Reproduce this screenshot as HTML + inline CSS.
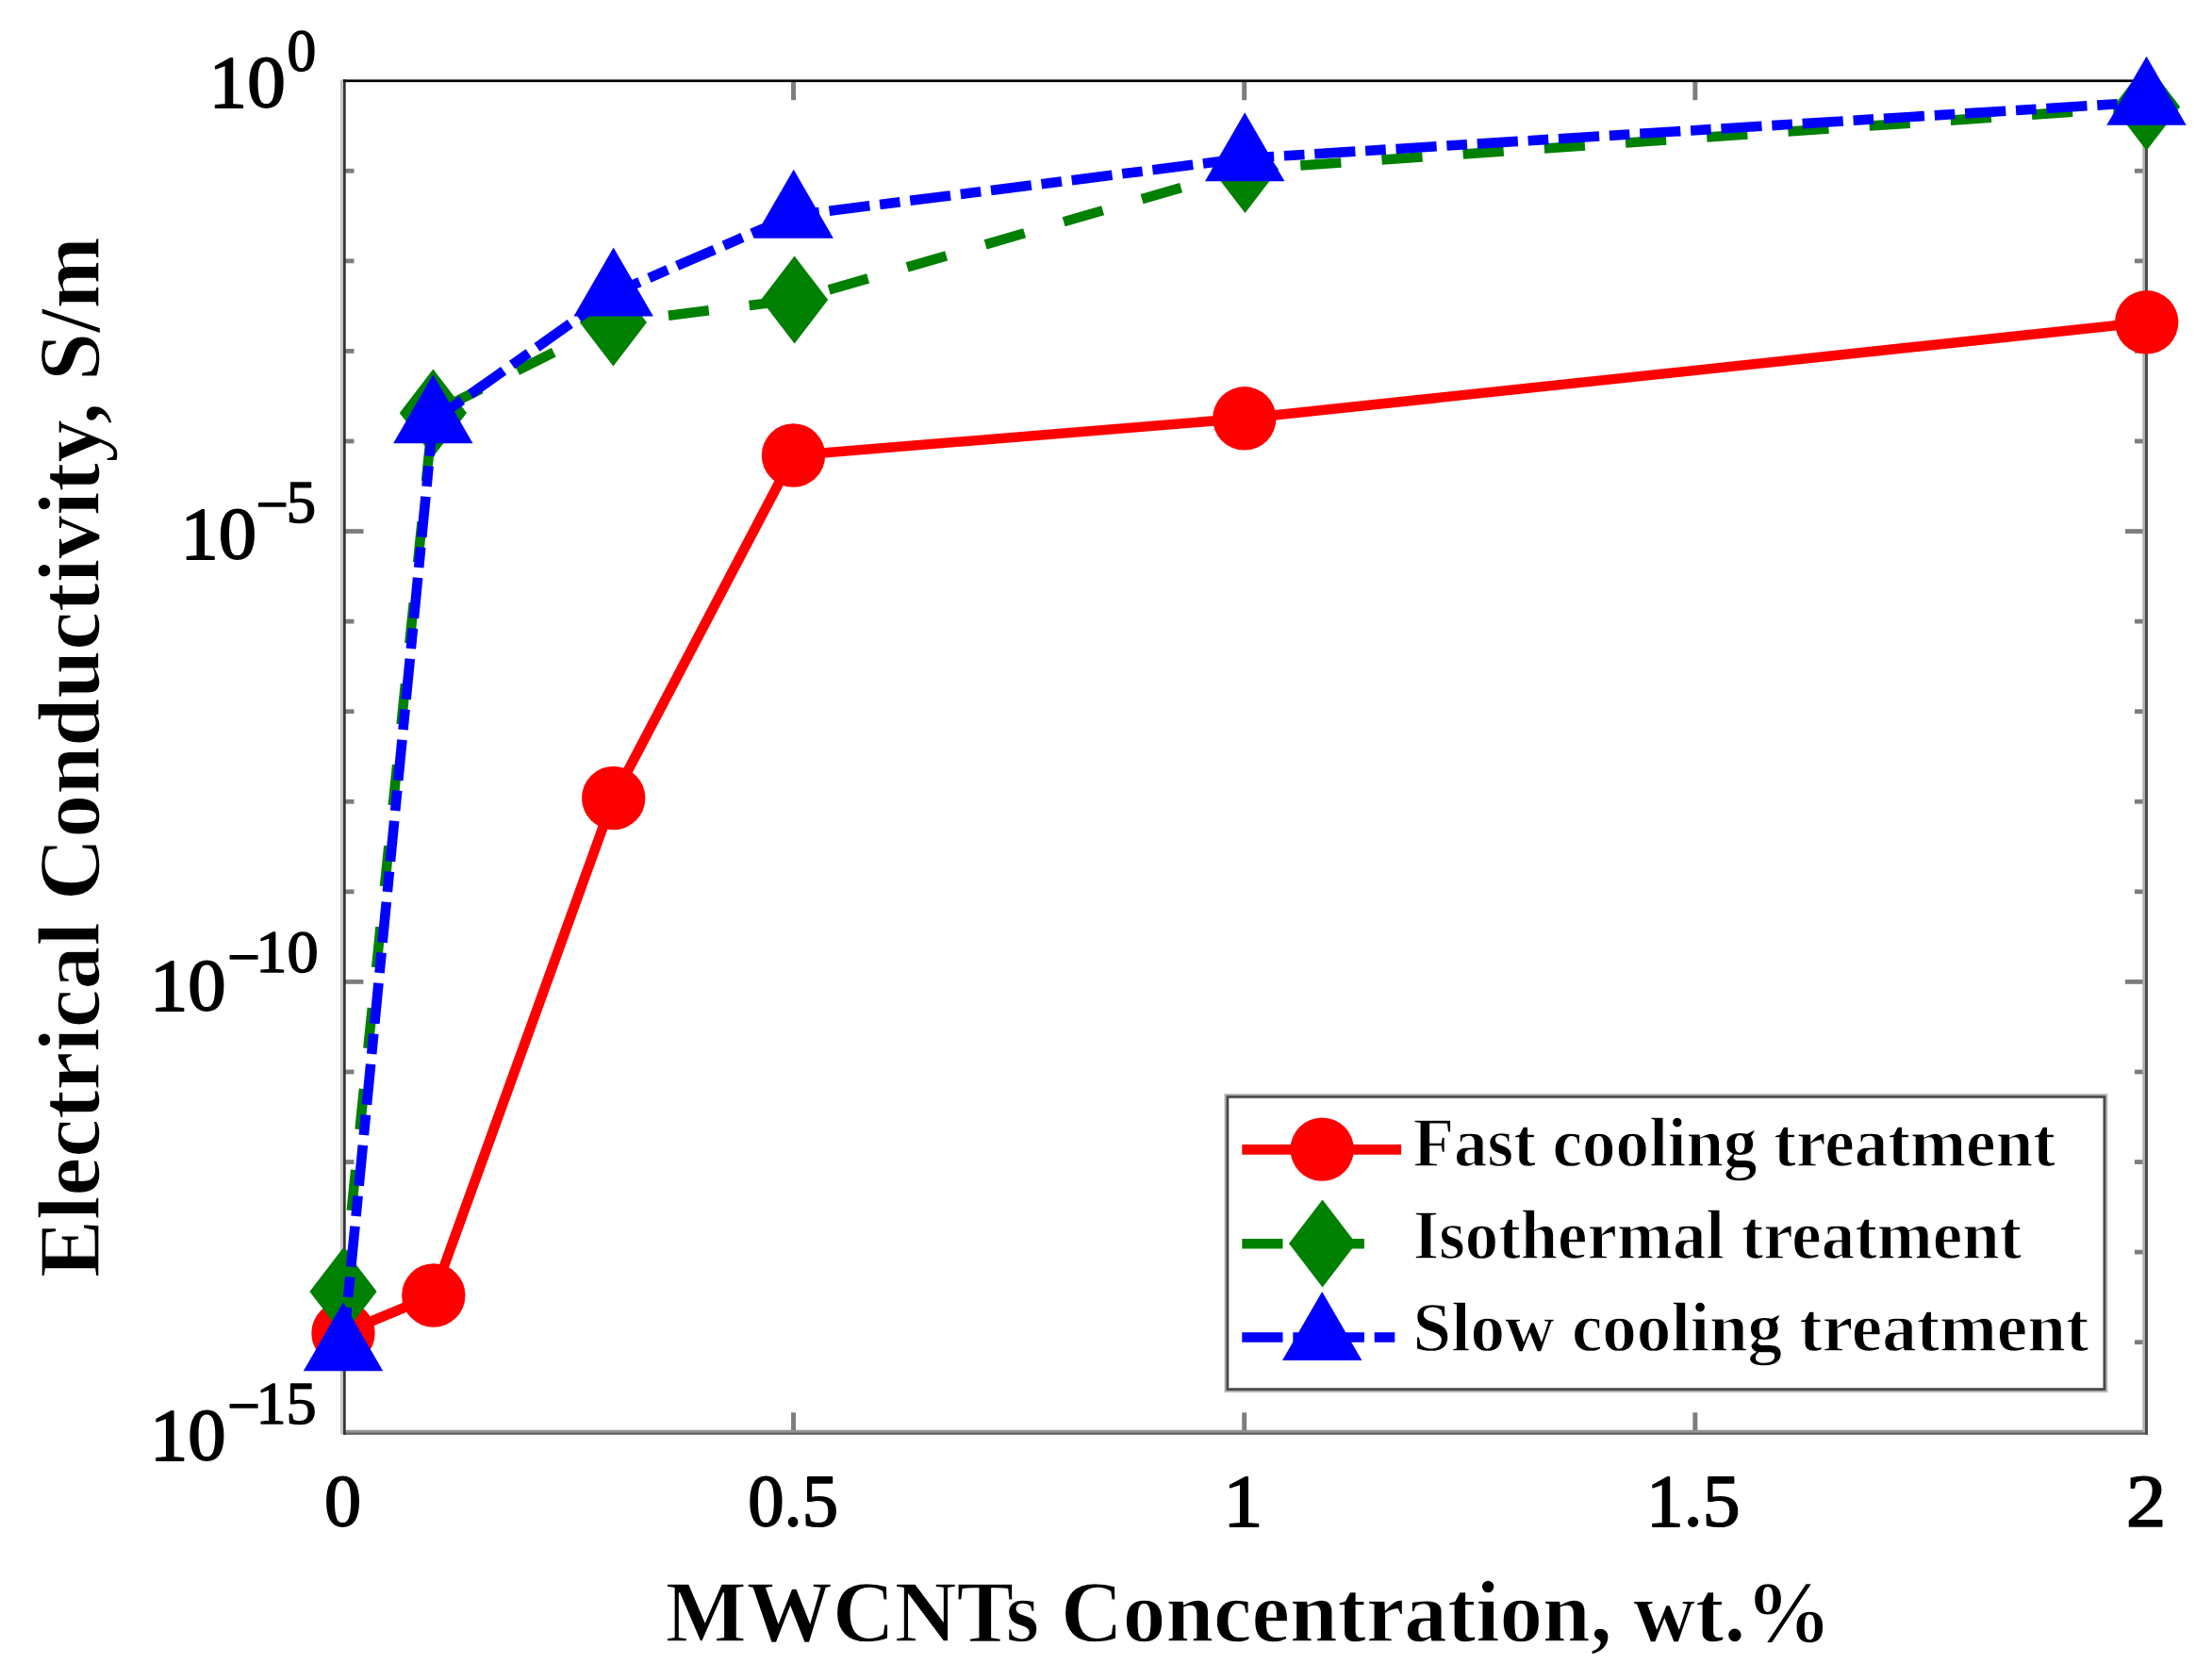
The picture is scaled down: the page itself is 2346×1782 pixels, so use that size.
<!DOCTYPE html>
<html><head><meta charset="utf-8"><title>Electrical conductivity vs MWCNTs concentration</title>
<style>html,body{margin:0;padding:0;background:#fff;}svg{display:block;}</style></head>
<body><svg width="2346" height="1782" viewBox="0 0 2346 1782">
<rect width="2346" height="1782" fill="#ffffff"/>
<rect x="364.00" y="178.87" width="11.50" height="4.80" fill="#7d7d7d"/>
<rect x="2264.00" y="178.87" width="11.50" height="4.80" fill="#7d7d7d"/>
<rect x="364.00" y="274.44" width="11.50" height="4.80" fill="#7d7d7d"/>
<rect x="2264.00" y="274.44" width="11.50" height="4.80" fill="#7d7d7d"/>
<rect x="364.00" y="370.01" width="11.50" height="4.80" fill="#7d7d7d"/>
<rect x="2264.00" y="370.01" width="11.50" height="4.80" fill="#7d7d7d"/>
<rect x="364.00" y="465.58" width="11.50" height="4.80" fill="#7d7d7d"/>
<rect x="2264.00" y="465.58" width="11.50" height="4.80" fill="#7d7d7d"/>
<rect x="364.00" y="561.15" width="21.50" height="4.80" fill="#7d7d7d"/>
<rect x="2254.00" y="561.15" width="21.50" height="4.80" fill="#7d7d7d"/>
<rect x="364.00" y="656.72" width="11.50" height="4.80" fill="#7d7d7d"/>
<rect x="2264.00" y="656.72" width="11.50" height="4.80" fill="#7d7d7d"/>
<rect x="364.00" y="752.29" width="11.50" height="4.80" fill="#7d7d7d"/>
<rect x="2264.00" y="752.29" width="11.50" height="4.80" fill="#7d7d7d"/>
<rect x="364.00" y="847.86" width="11.50" height="4.80" fill="#7d7d7d"/>
<rect x="2264.00" y="847.86" width="11.50" height="4.80" fill="#7d7d7d"/>
<rect x="364.00" y="943.43" width="11.50" height="4.80" fill="#7d7d7d"/>
<rect x="2264.00" y="943.43" width="11.50" height="4.80" fill="#7d7d7d"/>
<rect x="364.00" y="1039.00" width="21.50" height="4.80" fill="#7d7d7d"/>
<rect x="2254.00" y="1039.00" width="21.50" height="4.80" fill="#7d7d7d"/>
<rect x="364.00" y="1134.57" width="11.50" height="4.80" fill="#7d7d7d"/>
<rect x="2264.00" y="1134.57" width="11.50" height="4.80" fill="#7d7d7d"/>
<rect x="364.00" y="1230.14" width="11.50" height="4.80" fill="#7d7d7d"/>
<rect x="2264.00" y="1230.14" width="11.50" height="4.80" fill="#7d7d7d"/>
<rect x="364.00" y="1325.71" width="11.50" height="4.80" fill="#7d7d7d"/>
<rect x="2264.00" y="1325.71" width="11.50" height="4.80" fill="#7d7d7d"/>
<rect x="364.00" y="1421.28" width="11.50" height="4.80" fill="#7d7d7d"/>
<rect x="2264.00" y="1421.28" width="11.50" height="4.80" fill="#7d7d7d"/>
<rect x="839.05" y="1498.30" width="5.00" height="21.00" fill="#7d7d7d"/>
<rect x="839.05" y="85.70" width="5.00" height="20.50" fill="#7d7d7d"/>
<rect x="1317.20" y="1498.30" width="5.00" height="21.00" fill="#7d7d7d"/>
<rect x="1317.20" y="85.70" width="5.00" height="20.50" fill="#7d7d7d"/>
<rect x="1795.35" y="1498.30" width="5.00" height="21.00" fill="#7d7d7d"/>
<rect x="1795.35" y="85.70" width="5.00" height="20.50" fill="#7d7d7d"/>
<rect x="364.00" y="1516.80" width="1914.00" height="2.50" fill="#939393"/>
<rect x="364.00" y="1519.30" width="1914.00" height="2.50" fill="#5e5e5e"/>
<rect x="2272.30" y="84.40" width="2.70" height="1434.60" fill="#b0b0b0"/>
<rect x="2275.00" y="84.40" width="3.00" height="1437.40" fill="#4d4d4d"/>
<rect x="361.00" y="84.40" width="3.00" height="1437.00" fill="#c4c4c4"/>
<rect x="364.00" y="84.40" width="2.70" height="1437.40" fill="#333333"/>
<rect x="364.00" y="84.40" width="1914.00" height="2.70" fill="#000000"/>
<rect x="1301.0" y="1162.6" width="931.8000000000002" height="311.9000000000001" fill="#ffffff" stroke="#b4b4b4" stroke-width="5"/>
<rect x="1301.8" y="1163.3999999999999" width="930.2000000000002" height="310.30000000000007" fill="none" stroke="#4a4a4a" stroke-width="2.6"/>
<line x1="1317.3" y1="1219.4" x2="1486.1" y2="1219.4" stroke="#ff0000" stroke-width="10.6"/>
<circle cx="1402.20" cy="1219.10" r="33.7" fill="#ff0000"/>
<line x1="1317.3" y1="1319.2" x2="1486.1" y2="1319.2" stroke="#008000" stroke-width="10.6" stroke-dasharray="43.2 43.2"/>
<polygon points="1402.60,1272.60 1438.20,1319.10 1402.60,1365.60 1367.00,1319.10" fill="#008000"/>
<line x1="1317.3" y1="1418.5" x2="1486.1" y2="1418.5" stroke="#0000ff" stroke-width="10.6" stroke-dasharray="43.2 10.8 21.6 10.8"/>
<polygon points="1402.20,1370.03 1444.40,1443.03 1360.00,1443.03" fill="#0000ff"/>
<polyline points="364.00,1414.00 459.80,1374.00 650.70,846.50 841.50,483.00 1319.80,443.80 2276.70,341.80" fill="none" stroke="#ff0000" stroke-width="10.6" stroke-linejoin="round"/>
<circle cx="364.00" cy="1414.00" r="33.7" fill="#ff0000"/>
<circle cx="459.80" cy="1374.00" r="33.7" fill="#ff0000"/>
<circle cx="650.70" cy="846.50" r="33.7" fill="#ff0000"/>
<circle cx="841.50" cy="483.00" r="33.7" fill="#ff0000"/>
<circle cx="1319.80" cy="443.80" r="33.7" fill="#ff0000"/>
<circle cx="2276.70" cy="341.80" r="33.7" fill="#ff0000"/>
<polyline points="364.00,1370.00 459.40,438.00 650.40,342.00 842.60,318.00 1320.50,179.50 2276.60,113.20" fill="none" stroke="#008000" stroke-width="10.6" stroke-linejoin="round" stroke-dasharray="43.2 43.2"/>
<polygon points="364.00,1323.50 399.60,1370.00 364.00,1416.50 328.40,1370.00" fill="#008000"/>
<polygon points="459.40,391.50 495.00,438.00 459.40,484.50 423.80,438.00" fill="#008000"/>
<polygon points="650.40,295.50 686.00,342.00 650.40,388.50 614.80,342.00" fill="#008000"/>
<polygon points="842.60,271.50 878.20,318.00 842.60,364.50 807.00,318.00" fill="#008000"/>
<polygon points="1320.50,133.00 1356.10,179.50 1320.50,226.00 1284.90,179.50" fill="#008000"/>
<polygon points="2276.60,66.70 2312.20,113.20 2276.60,159.70 2241.00,113.20" fill="#008000"/>
<polyline points="364.00,1429.80 459.30,446.00 650.65,311.10 841.70,228.50 1320.20,167.90 2276.50,108.40" fill="none" stroke="#0000ff" stroke-width="10.6" stroke-linejoin="round" stroke-dasharray="43.2 10.8 21.6 10.8"/>
<polygon points="364.00,1381.13 406.20,1454.13 321.80,1454.13" fill="#0000ff"/>
<polygon points="459.30,397.33 501.50,470.33 417.10,470.33" fill="#0000ff"/>
<polygon points="650.65,262.43 692.85,335.43 608.45,335.43" fill="#0000ff"/>
<polygon points="841.70,179.83 883.90,252.83 799.50,252.83" fill="#0000ff"/>
<polygon points="1320.20,119.23 1362.40,192.23 1278.00,192.23" fill="#0000ff"/>
<polygon points="2276.50,59.73 2318.70,132.73 2234.30,132.73" fill="#0000ff"/>
<text transform="translate(221.56,113.40) scale(1.0391,1)" font-family="'Liberation Serif', serif" font-size="78.12" stroke="#000" stroke-width="1.8" stroke-linejoin="round" fill="#000">10</text>
<text transform="translate(304.43,74.55) scale(0.9768,1)" font-family="'Liberation Serif', serif" font-size="62.95" stroke="#000" stroke-width="1.5" stroke-linejoin="round" fill="#000">0</text>
<text transform="translate(191.50,592.00) scale(1.0319,1)" font-family="'Liberation Serif', serif" font-size="78.12" stroke="#000" stroke-width="1.8" stroke-linejoin="round" fill="#000">10</text>
<text transform="translate(271.72,556.40) scale(0.9591,1)" font-family="'Liberation Serif', serif" font-size="62.95" stroke="#000" stroke-width="1.5" stroke-linejoin="round" fill="#000">−</text>
<text transform="translate(303.82,554.05) scale(0.9941,1)" font-family="'Liberation Serif', serif" font-size="62.95" stroke="#000" stroke-width="1.5" stroke-linejoin="round" fill="#000">5</text>
<text transform="translate(159.00,1070.80) scale(1.0319,1)" font-family="'Liberation Serif', serif" font-size="78.12" stroke="#000" stroke-width="1.8" stroke-linejoin="round" fill="#000">10</text>
<text transform="translate(241.26,1035.60) scale(0.9795,1)" font-family="'Liberation Serif', serif" font-size="62.95" stroke="#000" stroke-width="1.5" stroke-linejoin="round" fill="#000">−</text>
<text transform="translate(271.37,1030.95) scale(1.0542,1)" font-family="'Liberation Serif', serif" font-size="62.95" stroke="#000" stroke-width="1.5" stroke-linejoin="round" fill="#000">10</text>
<text transform="translate(159.00,1547.90) scale(1.0319,1)" font-family="'Liberation Serif', serif" font-size="78.12" stroke="#000" stroke-width="1.8" stroke-linejoin="round" fill="#000">10</text>
<text transform="translate(241.26,1512.20) scale(0.9795,1)" font-family="'Liberation Serif', serif" font-size="62.95" stroke="#000" stroke-width="1.5" stroke-linejoin="round" fill="#000">−</text>
<text transform="translate(271.54,1509.95) scale(1.0185,1)" font-family="'Liberation Serif', serif" font-size="62.95" stroke="#000" stroke-width="1.5" stroke-linejoin="round" fill="#000">15</text>
<text transform="translate(343.96,1617.60) scale(1.0006,1)" font-family="'Liberation Serif', serif" font-size="78.12" stroke="#000" stroke-width="1.8" stroke-linejoin="round" fill="#000">0</text>
<text transform="translate(793.31,1617.60) scale(0.9809,1)" font-family="'Liberation Serif', serif" font-size="78.12" stroke="#000" stroke-width="1.8" stroke-linejoin="round" fill="#000">0.5</text>
<text transform="translate(1297.32,1617.80) scale(1.0786,1)" font-family="'Liberation Serif', serif" font-size="78.12" stroke="#000" stroke-width="1.8" stroke-linejoin="round" fill="#000">1</text>
<text transform="translate(1746.09,1617.60) scale(1.0167,1)" font-family="'Liberation Serif', serif" font-size="78.12" stroke="#000" stroke-width="1.8" stroke-linejoin="round" fill="#000">1.5</text>
<text transform="translate(2255.06,1617.90) scale(1.0801,1)" font-family="'Liberation Serif', serif" font-size="78.12" stroke="#000" stroke-width="1.8" stroke-linejoin="round" fill="#000">2</text>
<text transform="translate(705.83,1740.55) scale(0.9718,1)" font-family="'Liberation Serif', serif" font-size="93.75" font-weight="bold" stroke="#fff" stroke-width="1.3" paint-order="fill stroke" fill="#000">MWCNTs Concentration, wt.%</text>
<text transform="translate(105.15,1355.28) rotate(-90) scale(0.9795,1)" font-family="'Liberation Serif', serif" font-size="93.75" font-weight="bold" stroke="#fff" stroke-width="1.3" paint-order="fill stroke" fill="#000">Electrical Conductivity, S/m</text>
<text transform="translate(1498.64,1236.65) scale(0.9569,1)" font-family="'Liberation Serif', serif" font-size="74.24" font-weight="bold" stroke="#fff" stroke-width="1.3" paint-order="fill stroke" fill="#000">Fast cooling treatment</text>
<text transform="translate(1498.64,1335.05) scale(0.9537,1)" font-family="'Liberation Serif', serif" font-size="74.24" font-weight="bold" stroke="#fff" stroke-width="1.3" paint-order="fill stroke" fill="#000">Isothermal treatment</text>
<text transform="translate(1498.53,1433.35) scale(0.9840,1)" font-family="'Liberation Serif', serif" font-size="74.24" font-weight="bold" stroke="#fff" stroke-width="1.3" paint-order="fill stroke" fill="#000">Slow cooling treatment</text>
</svg></body></html>
